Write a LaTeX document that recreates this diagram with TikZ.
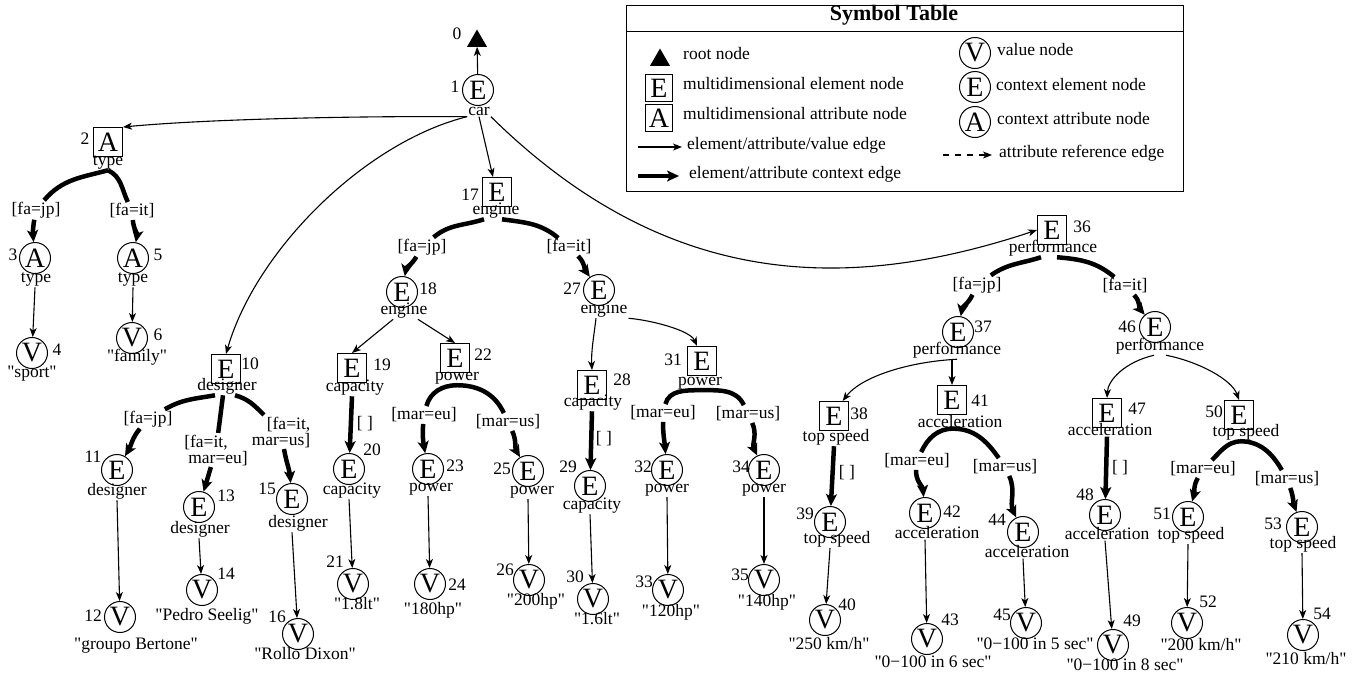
\documentclass[tikz,border=0pt]{standalone}
\usepackage{fontspec}
\setmainfont{Liberation Serif}[Ligatures=TeXOff]
\usetikzlibrary{arrows.meta,shapes.geometric}
\newcommand\mdtn[7]{%
  \node[#2] (n#1) at (#4) {#3};
  \node[num] (k#1) at (#5) {#1};
  \node[txt] (t#1) at (#6) {#7};}
\begin{document}
\begin{tikzpicture}[x=1pt,y=1pt,
  every node/.style={font=\fontsize{17.5}{16}\selectfont},
  bigl/.style={font=\fontsize{28}{28}\selectfont},
  mbox/.style={draw,line width=1pt,minimum size=29pt,inner sep=0pt,bigl},
  cbox/.style={draw,circle,line width=1pt,minimum size=31pt,inner sep=0pt,bigl},
  txt/.style={inner sep=1pt,anchor=mid},
  num/.style={inner sep=0pt,anchor=mid},
  clab/.style={inner sep=1.5pt},
  lgt/.style={inner sep=0pt,anchor=mid west},
  edge/.style={line width=1.1pt,-{Stealth[length=9pt,width=7pt,inset=2.5pt]}},
  ctx/.style={line width=4.5pt},
  ctxa/.style={line width=4.5pt,-{Stealth[length=12pt,width=11pt,inset=3pt]}},
  root/.style={regular polygon,regular polygon sides=3,fill=black,minimum size=23pt,inner sep=0pt},
]
\useasboundingbox (0,0) rectangle (1359,-673);

% ---------- symbol table ----------
\draw[line width=1pt] (626,-5) rectangle (1183,-191);
\draw[line width=1pt] (626,-31) -- (1183,-31);
\node[font=\bfseries\fontsize{22}{22}\selectfont,anchor=mid] (title) at (894,-18) {Symbol Table};
\node[root] (s0) at (660,-60) {};
\node[lgt] (s0t) at (683,-57) {root node};
\node[mbox,minimum size=27pt] (sE) at (659,-88) {E};
\node[lgt] (sEt) at (683,-87) {multidimensional element node};
\node[mbox,minimum size=27pt] (sA) at (659,-118) {A};
\node[lgt] (sAt) at (683,-117) {multidimensional attribute node};
\coordinate (sa1) at (638,-147); \coordinate (sa2) at (682,-147);
\draw[edge] (sa1) -- (sa2);
\node[lgt] (sat) at (687,-147) {element/attribute/value edge};
\coordinate (sb1) at (638,-176); \coordinate (sb2) at (679,-176);
\draw[ctxa] (sb1) -- (sb2);
\node[lgt] (sbt) at (689,-176) {element/attribute context edge};
\node[cbox] (sV2) at (975,-53) {V};
\node[lgt] (sV2t) at (997,-53) {value node};
\node[cbox] (sE2) at (975,-87) {E};
\node[lgt] (sE2t) at (996,-88) {context element node};
\node[cbox] (sA2) at (975,-122) {A};
\node[lgt] (sA2t) at (997,-122) {context attribute node};
\coordinate (sc1) at (943,-155); \coordinate (sc2) at (992,-155);
\draw[edge,dash pattern=on 6pt off 6pt] (sc1) -- (sc2);
\node[lgt] (sct) at (999,-155) {attribute reference edge};

% ---------- tree nodes ----------
\node[root] (n0) at (477,-41) {};
\node[num] (k0) at (457,-37) {0};
\mdtn{1}{cbox}{E}{478,-90}{455,-90}{479,-113}{car}
\mdtn{2}{mbox}{A}{108,-142}{85,-142}{108,-163}{type}
\mdtn{3}{cbox}{A}{35,-258}{13,-258}{36,-280}{type}
\mdtn{4}{cbox}{V}{32,-353}{57,-353}{32,-375}{"sport"}
\mdtn{5}{cbox}{A}{133,-258}{158,-258}{133,-280}{type}
\mdtn{6}{cbox}{V}{132,-338}{158,-338}{137,-359}{"family"}
\mdtn{10}{mbox}{E}{226,-369}{250,-367}{227,-388}{designer}
\mdtn{11}{cbox}{E}{117,-470}{93,-460}{117,-493}{designer}
\mdtn{12}{cbox}{V}{120,-617}{93,-619}{136,-647}{"groupo Bertone"}
\mdtn{13}{cbox}{E}{199,-507}{226,-499}{200,-531}{designer}
\mdtn{14}{cbox}{V}{202,-590}{226,-577}{207,-618}{"Pedro Seelig"}
\mdtn{15}{cbox}{E}{292,-499}{267,-492}{298,-525}{designer}
\mdtn{16}{cbox}{V}{298,-634}{277,-620}{305,-657}{"Rollo Dixon"}
\mdtn{17}{mbox}{E}{497,-192}{470,-198}{496,-212}{engine}
\mdtn{18}{cbox}{E}{402,-292}{428,-292}{404,-312}{engine}
\mdtn{19}{mbox}{E}{352,-368}{382,-368}{355,-389}{capacity}
\mdtn{20}{cbox}{E}{349,-469}{372,-453}{352,-492}{capacity}
\mdtn{21}{cbox}{V}{353,-584}{335,-565}{357,-607}{"1.8lt"}
\mdtn{22}{mbox}{E}{455,-358}{483,-358}{457,-378}{power}
\mdtn{23}{cbox}{E}{428,-469}{455,-469}{431,-489}{power}
\mdtn{24}{cbox}{V}{430,-584}{457,-588}{433,-612}{"180hp"}
\mdtn{25}{cbox}{E}{528,-471}{502,-472}{532,-492}{power}
\mdtn{26}{cbox}{V}{529,-580}{505,-573}{536,-603}{"200hp"}
\mdtn{27}{cbox}{E}{599,-290}{572,-292}{604,-311}{engine}
\mdtn{28}{mbox}{E}{592,-385}{622,-383}{593,-404}{capacity}
\mdtn{29}{cbox}{E}{590,-486}{568,-470}{592,-507}{capacity}
\mdtn{30}{cbox}{V}{593,-599}{575,-580}{597,-622}{"1.6lt"}
\mdtn{31}{mbox}{E}{702,-361}{673,-363}{700,-383}{power}
\mdtn{32}{cbox}{E}{667,-470}{643,-470}{667,-490}{power}
\mdtn{33}{cbox}{V}{668,-590}{644,-585}{671,-614}{"120hp"}
\mdtn{34}{cbox}{E}{764,-470}{741,-470}{764,-490}{power}
\mdtn{35}{cbox}{V}{764,-580}{740,-578}{767,-604}{"140hp"}
\mdtn{36}{mbox}{E}{1052,-230}{1082,-230}{1053,-250}{performance}
\mdtn{37}{cbox}{E}{958,-332}{983,-330}{957,-352}{performance}
\mdtn{38}{mbox}{E}{834,-416}{859,-417}{836,-439}{top speed}
\mdtn{39}{cbox}{E}{830,-522}{805,-517}{837,-541}{top speed}
\mdtn{40}{cbox}{V}{825,-620}{847,-608}{829,-647}{"250 km/h"}
\mdtn{41}{mbox}{E}{952,-400}{980,-404}{960,-425}{acceleration}
\mdtn{42}{cbox}{E}{925,-513}{952,-515}{937,-536}{acceleration}
\mdtn{43}{cbox}{V}{927,-639}{950,-623}{933,-665}{"0−100 in 6 sec"}
\mdtn{44}{cbox}{E}{1023,-532}{997,-523}{1027,-555}{acceleration}
\mdtn{45}{cbox}{V}{1026,-623}{1002,-618}{1035,-647}{"0−100 in 5 sec"}
\mdtn{46}{cbox}{E}{1155,-327}{1127,-330}{1160,-348}{performance}
\mdtn{47}{mbox}{E}{1107,-413}{1137,-412}{1110,-433}{acceleration}
\mdtn{48}{cbox}{E}{1105,-515}{1085,-498}{1107,-537}{acceleration}
\mdtn{49}{cbox}{V}{1113,-645}{1132,-624}{1125,-668}{"0−100 in 8 sec"}
\mdtn{50}{mbox}{E}{1239,-415}{1214,-415}{1246,-434}{top speed}
\mdtn{51}{cbox}{E}{1188,-517}{1162,-517}{1191,-537}{top speed}
\mdtn{52}{cbox}{V}{1187,-623}{1208,-605}{1201,-648}{"200 km/h"}
\mdtn{53}{cbox}{E}{1302,-527}{1273,-527}{1303,-546}{top speed}
\mdtn{54}{cbox}{V}{1303,-635}{1322,-617}{1306,-662}{"210 km/h"}

% ---------- context labels ----------
\node[clab] (L2a) at (36,-210) {[fa=jp]};
\node[clab] (L2b) at (132,-211) {[fa=it]};
\node[clab] (L10a) at (148,-419) {[fa=jp]};
\node[clab,align=left] (L10b) at (216,-450) {[fa=it,\\\hspace*{4pt}mar=eu]};
\node[clab,align=right] (L10c) at (281,-432) {[fa=it,\\mar=us]};
\node[clab] (L17a) at (422,-247) {[fa=jp]};
\node[clab] (L17b) at (569,-247) {[fa=it]};
\node[clab] (L19) at (365,-424) {[ ]};
\node[clab] (L22a) at (424,-415) {[mar=eu]};
\node[clab] (L22b) at (508,-422) {[mar=us]};
\node[clab] (L28) at (604,-439) {[ ]};
\node[clab] (L31a) at (663,-413) {[mar=eu]};
\node[clab] (L31b) at (748,-414) {[mar=us]};
\node[clab] (L36a) at (977,-285) {[fa=jp]};
\node[clab] (L36b) at (1125,-286) {[fa=it]};
\node[clab] (L38) at (847,-473) {[ ]};
\node[clab] (L41a) at (917,-461) {[mar=eu]};
\node[clab] (L41b) at (1005,-467) {[mar=us]};
\node[clab] (L47) at (1120,-468) {[ ]};
\node[clab] (L50a) at (1203,-469) {[mar=eu]};
\node[clab] (L50b) at (1287,-479) {[mar=us]};

% ---------- element/attribute/value edges ----------
\draw[edge] (n1) -- (n0);
\draw[edge] (t1.south west) .. controls (380,-116) and (220,-118) .. (n2.north east);
\draw[edge] (t1.south west) .. controls (365,-142) and (256,-250) .. (n10.north);
\draw[edge] (t1.south) -- ([xshift=-4pt]n17.north);
\draw[edge] (t1.south east) .. controls (667,-290) and (847,-293) .. (n36.west);
\draw[edge] (t18) -- (n19.north);
\draw[edge] (t18) -- (n22.north);
\draw[edge] ([xshift=-8pt]t27.south) .. controls (594,-335) and (591,-352) .. (n28.north);
\draw[edge] (t27.south east) .. controls (650,-320) and (690,-330) .. ([xshift=-5pt]n31.north);
\draw[edge] (t37.south) .. controls (905,-362) and (860,-378) .. (n38.60);
\draw[edge] ([xshift=-5pt]t37.south) -- (n41.north);
\draw[edge] ([xshift=-6pt]t46.south) .. controls (1125,-362) and (1108,-380) .. (n47.north);
\draw[edge] ([xshift=6pt]t46.south) .. controls (1200,-362) and (1232,-380) .. (n50.north);
\foreach \a/\b in {3/4,5/6,11/12,13/14,15/16,20/21,23/24,25/26,29/30,32/33,34/35,39/40,42/43,44/45,48/49,51/52,53/54}
  \draw[edge] (n\a |- t\a.south) -- (n\b);

% ---------- context edges ----------
\draw[ctx] (t2.south) to[out=195,in=50] (L2a);
\draw[ctxa] (L2a) to[out=-100,in=95] (n3);
\draw[ctx] (t2.south) to[out=-25,in=115] (L2b);
\draw[ctxa] (L2b) to[out=-85,in=80] (n5);

\draw[ctx] ([xshift=-12pt]t10.south) to[out=190,in=30] (L10a);
\draw[ctxa] (L10a) to[out=-130,in=60] (n11);
\draw[ctx] ([xshift=-4pt]t10.south) -- (L10b);
\draw[ctxa] (L10b) -- (n13);
\draw[ctx] ([xshift=8pt]t10.south) to[out=-15,in=135] (L10c);
\draw[ctxa] (L10c) to[out=-80,in=95] (n15);

\draw[ctx] ([xshift=-12pt]t17.south) to[out=198,in=40] (L17a);
\draw[ctxa] (L17a) to[out=-120,in=80] (n18);
\draw[ctx] ([xshift=6pt]t17.south) to[out=-8,in=140] (L17b);
\draw[ctxa] (L17b) to[out=-45,in=125] (n27);

\draw[ctxa] (n19 |- t19.south) -- (n20);
\draw[ctxa] (n28 |- t28.south) -- (n29);
\draw[ctxa] (n38 |- t38.south) -- (n39);
\draw[ctxa] (n47 |- t47.south) -- (n48);

\draw[ctx] (t22.south) to[out=180,in=75] (L22a);
\draw[ctxa] (L22a) to[out=-95,in=100] (n23);
\draw[ctx] (t22.south) to[out=0,in=115] (L22b);
\draw[ctxa] (L22b) to[out=-65,in=120] (n25);

\draw[ctx] (t31.south) to[out=180,in=75] (L31a);
\draw[ctxa] (L31a) to[out=-90,in=95] (n32);
\draw[ctx] (t31.south) to[out=0,in=115] (L31b);
\draw[ctxa] (L31b) to[out=-65,in=115] (n34);

\draw[ctx] ([xshift=-12pt]t36.south) to[out=198,in=35] (L36a);
\draw[ctxa] (L36a) to[out=-115,in=80] (n37);
\draw[ctx] ([xshift=4pt]t36.south) to[out=-5,in=140] (L36b);
\draw[ctxa] (L36b) to[out=-45,in=130] (n46);

\draw[ctx] ([xshift=-7pt]t41.south) to[out=180,in=65] (L41a);
\draw[ctxa] (L41a) to[out=-95,in=95] (n42);
\draw[ctx] ([xshift=-7pt]t41.south) to[out=0,in=125] (L41b);
\draw[ctxa] (L41b) to[out=-65,in=115] (n44);

\draw[ctx] ([xshift=-6pt]t50.south) to[out=185,in=45] (L50a);
\draw[ctxa] (L50a) to[out=-120,in=75] (n51);
\draw[ctx] ([xshift=-6pt]t50.south) to[out=0,in=120] (L50b);
\draw[ctxa] (L50b) to[out=-70,in=110] (n53);
\end{tikzpicture}
\end{document}
